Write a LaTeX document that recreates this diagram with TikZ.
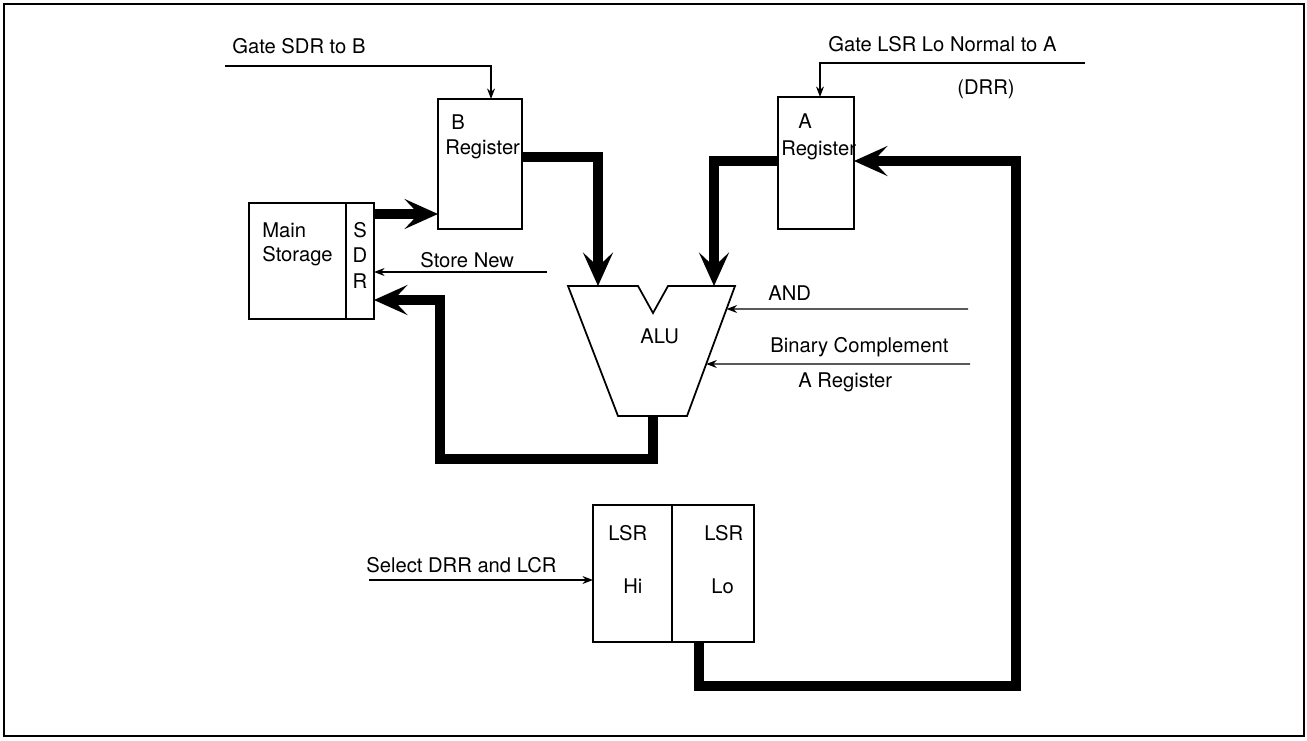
\documentclass[tikz,border=0pt]{standalone}
\usepackage{fontspec}
\setmainfont{TeX Gyre Heros}
\usetikzlibrary{arrows.meta, calc}

\begin{document}
\begin{tikzpicture}[x=0.02cm, y=-0.02cm, font=\fontsize{11.5}{13}\selectfont,
    regbox/.style={draw, line width=1pt, inner sep=0pt, outer sep=0pt, anchor=north west},
    lbl/.style={anchor=base west, inner sep=0pt},
    ctl/.style={line width=0.8pt, -{Stealth[length=6pt, width=4.5pt]}},
    bus/.style={line width=6pt, line join=miter, -{Stealth[length=19pt, width=17pt, inset=8pt]}}]

    % ==========================================
    % FRAME
    % ==========================================
    \useasboundingbox (0,0) rectangle (1307,740);
    \draw[line width=1pt] (4,4) rectangle (1304,736);

    % ==========================================
    % BOXES
    % ==========================================

    % Main storage with its data register
    \node[regbox, minimum width=1.94cm, minimum height=2.32cm] (ms) at (249,203) {};
    \node[regbox, minimum width=0.56cm, minimum height=2.32cm] (sdr) at (346,203) {};

    % Operand registers
    \node[regbox, minimum width=1.68cm, minimum height=2.6cm] (breg) at (438,99) {};
    \node[regbox, minimum width=1.52cm, minimum height=2.64cm] (areg) at (778,97) {};

    % Local storage register, two halves
    \node[regbox, minimum width=1.58cm, minimum height=2.74cm] (lsrhi) at (593,505) {};
    \node[regbox, minimum width=1.64cm, minimum height=2.74cm] (lsrlo) at (672,505) {};

    % ALU outline (notched trapezoid)
    \coordinate (alu_tl) at (568,286);
    \coordinate (alu_tr) at (735,286);
    \coordinate (alu_br) at (687,416);
    \coordinate (alu_bl) at (618,416);
    \draw[line width=1pt, line join=miter]
        (alu_tl) -- (638,286) -- (653,313) -- (668,286) -- (alu_tr) -- (alu_br) -- (alu_bl) -- cycle;

    % Points on the ALU outline
    \coordinate (alu_inb) at (598,286);
    \coordinate (alu_ina) at (714,286);
    \coordinate (alu_out) at (653,416);
    \coordinate (alu_and) at ($(alu_tr)!23/130!(alu_br)$);
    \coordinate (alu_cmp) at ($(alu_tr)!78/130!(alu_br)$);

    % ==========================================
    % TEXTS
    % ==========================================
    \node[lbl] (t_main) at (262,237) {Main};
    \node[lbl] (t_stor) at (262,261) {Storage};
    \node[anchor=base, inner sep=0pt] (t_s) at (360,237) {S};
    \node[anchor=base, inner sep=0pt] (t_d) at (360,262) {D};
    \node[anchor=base, inner sep=0pt] (t_r) at (360,288) {R};

    \node[lbl] (t_b)    at (451,130) {B};
    \node[lbl] (t_breg) at (445,154) {Register};
    \node[lbl] (t_a)    at (798,128) {A};
    \node[lbl] (t_areg) at (781,155) {Register};

    \node[lbl] (t_alu) at (640,343) {ALU};

    \node[lbl] (t_hilsr) at (608,540) {LSR};
    \node[lbl] (t_hi)    at (623,593) {Hi};
    \node[lbl] (t_lolsr) at (704,540) {LSR};
    \node[lbl] (t_lo)    at (711,593) {Lo};

    \node[lbl] (t_gsdr)  at (232,54) {Gate SDR to B};
    \node[lbl] (t_glsr)  at (828,52) {Gate LSR Lo Normal to A};
    \node[lbl] (t_drr)   at (957,94) {(DRR)};
    \node[lbl] (t_store) at (420,267) {Store New};
    \node[lbl] (t_and)   at (768,300) {AND};
    \node[lbl] (t_cmp)   at (770,352) {Binary Complement};
    \node[lbl] (t_cmpa)  at (798,387) {A Register};
    \node[lbl] (t_sel)   at (366,572) {Select DRR and LCR};

    % ==========================================
    % CONTROL LINES
    % ==========================================
    \coordinate (gsdr_in)  at (225,66);
    \coordinate (glsr_in)  at (1085,63);
    \coordinate (store_in) at (547,272);
    \coordinate (and_in)   at (968,309);
    \coordinate (cmp_in)   at (970,364);
    \coordinate (sel_in)   at (369,580);

    \draw[ctl] (gsdr_in) -| (491,0 |- breg.north);
    \draw[ctl] (glsr_in) -| (820,0 |- areg.north);
    \draw[ctl] (store_in) -- (sdr.east |- store_in);
    \draw[ctl] (and_in) -- (alu_and);
    \draw[ctl] (cmp_in) -- (alu_cmp);
    \draw[ctl] (sel_in) -- (lsrhi.west |- sel_in);

    % ==========================================
    % DATA BUSES
    % ==========================================
    \draw[bus] (sdr.east |- 0,214) -- (breg.west |- 0,214);
    \draw[bus] (breg.east |- 0,157) -| (alu_inb);
    \draw[bus] (areg.west |- 0,161) -| (alu_ina);
    \draw[bus] (alu_out) |- (440,459) |- (sdr.east |- 0,300);
    \draw[bus] (lsrlo.south -| 699,0) |- (1016,686) |- (areg.east |- 0,161);

\end{tikzpicture}
\end{document}
